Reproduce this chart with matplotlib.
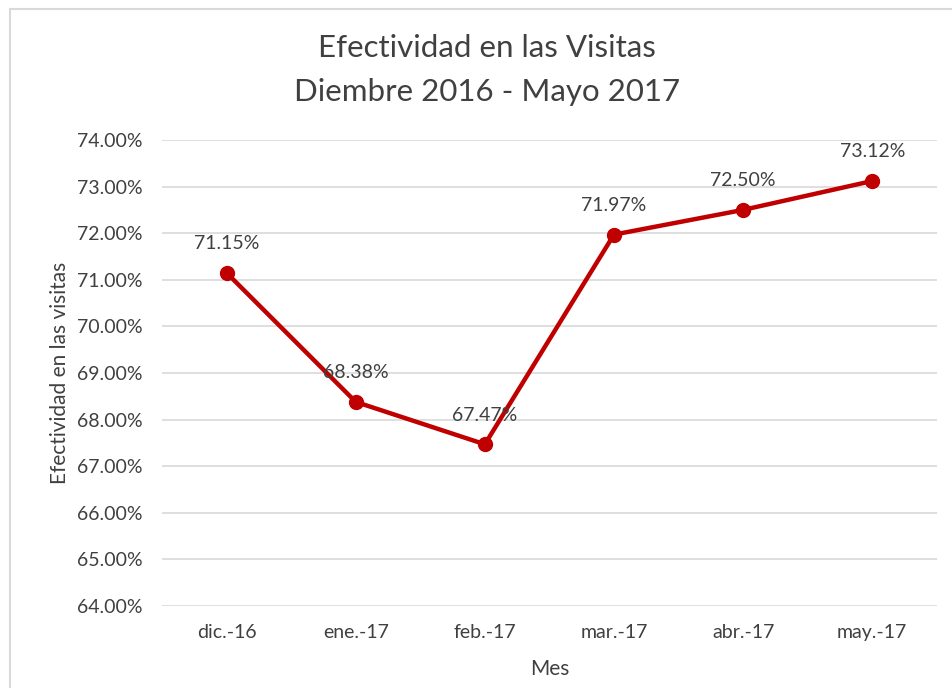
import matplotlib
matplotlib.use("Agg")
import matplotlib.pyplot as plt
from matplotlib.patches import Rectangle
from matplotlib.ticker import FuncFormatter

# monthly visit effectiveness (%)
meses = ["dic.-16", "ene.-17", "feb.-17", "mar.-17", "abr.-17", "may.-17"]
efectividad = [71.15, 68.38, 67.47, 71.97, 72.50, 73.12]

texto = "#404040"
rojo = "#C00000"

plt.rcParams["font.family"] = ["Lato", "DejaVu Sans"]

fig = plt.figure(figsize=(9.53, 6.88), dpi=100)
ax = fig.add_axes([0.170, 0.1192, 0.813, 0.6773])

# light frame around the chart area
fig.patches.append(Rectangle((10 / 953, -0.05), 1.2, 1 - 9 / 688 + 0.05,
                             transform=fig.transFigure, fill=False,
                             edgecolor="#D9D9D9", linewidth=1.5))

x = list(range(len(meses)))
ax.plot(x, efectividad, color=rojo, linewidth=3.2, marker="o",
        markersize=10, zorder=3)

for xi, v in zip(x, efectividad):
    ax.annotate(f"{v:.2f}%", (xi, v), xytext=(0, 21), textcoords="offset points",
                ha="center", va="center", fontsize=14, color=texto, zorder=4)

ax.set_xlim(-0.5, len(meses) - 0.5)
ax.set_ylim(64, 74)
ax.set_yticks(range(64, 75))
ax.yaxis.set_major_formatter(FuncFormatter(lambda v, _: f"{v:.2f}%"))
ax.set_xticks(x)
ax.set_xticklabels(meses)

ax.grid(axis="y", color="#D9D9D9", linewidth=1.2)
ax.set_axisbelow(True)
for s in ax.spines.values():
    s.set_visible(False)
ax.tick_params(axis="both", length=0, labelsize=14, labelcolor=texto)
ax.tick_params(axis="y", pad=14)
ax.tick_params(axis="x", pad=13)

ax.set_xlabel("Mes", fontsize=15, color=texto, labelpad=13)
ax.set_ylabel("Efectividad en las visitas", fontsize=15, color=texto, labelpad=5)

fig.text(487 / 953, 1 - 48 / 688, "Efectividad en las Visitas",
         ha="center", va="center", fontsize=22.5, color=texto)
fig.text(487 / 953, 1 - 92 / 688, "Diembre 2016 - Mayo 2017",
         ha="center", va="center", fontsize=22.5, color=texto)

fig.savefig("out.png", dpi=100, facecolor="white")
